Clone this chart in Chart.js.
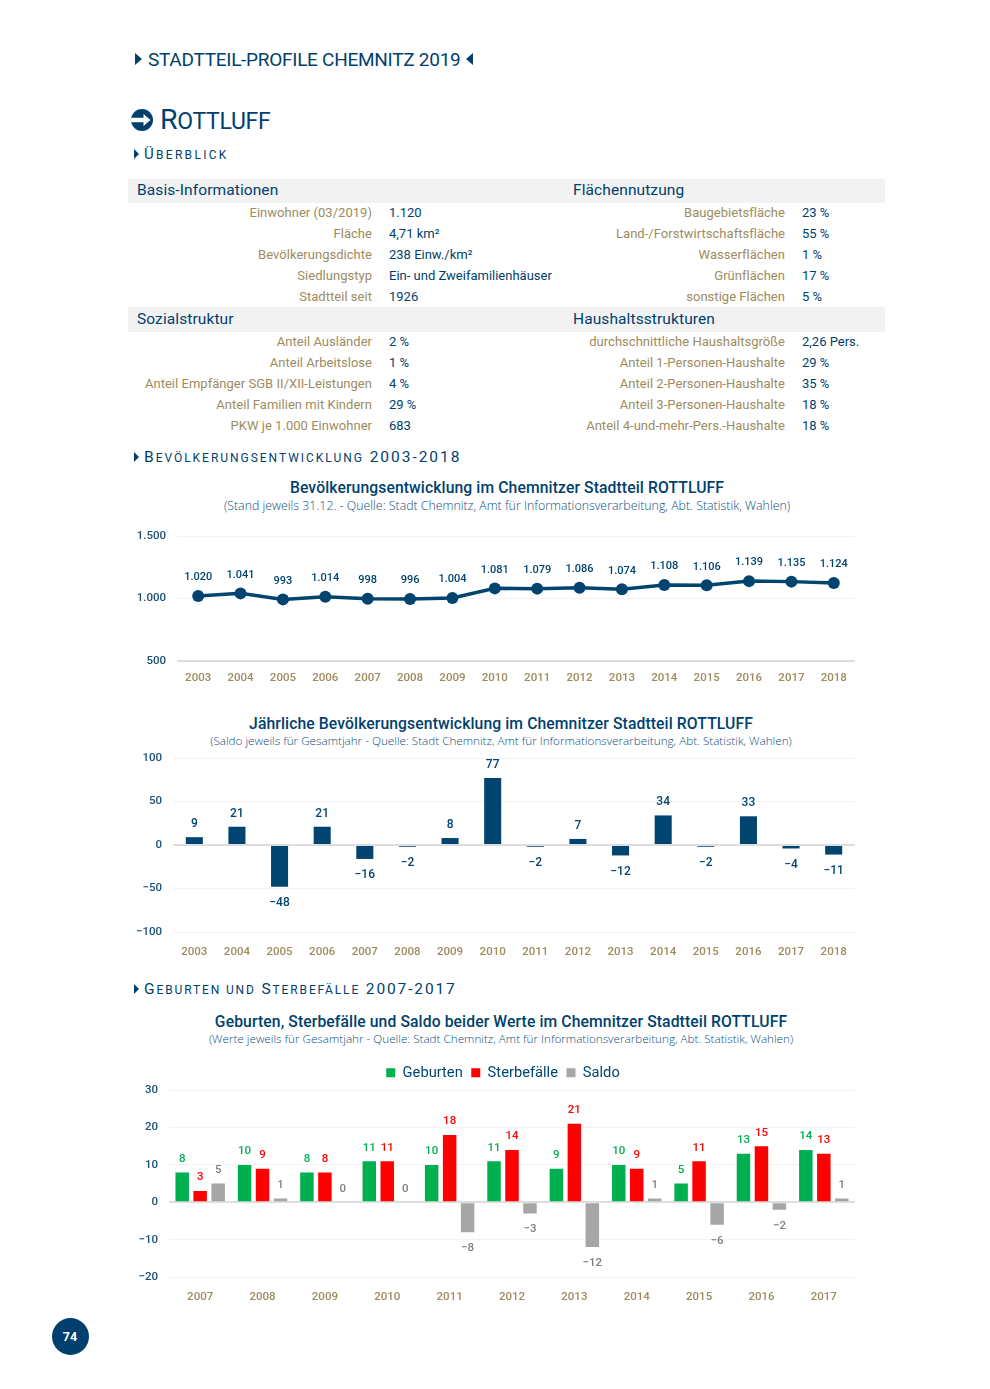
<!DOCTYPE html>
<html lang="de">
<head>
<meta charset="utf-8">
<title>Stadtteil-Profile Chemnitz 2019 – Rottluff</title>
<script src="https://cdn.jsdelivr.net/npm/chart.js@4/dist/chart.umd.min.js"></script>
<style>
html,body{margin:0;padding:0;background:#fff}
#page{position:relative;width:990px;height:1389px;overflow:hidden;background:#fff;font-family:Roboto,sans-serif;color:#003f6e}
.t{position:absolute;white-space:nowrap;line-height:1;transform:translateY(-50%)}
.r{transform:translate(-100%,-50%)}
.c{transform:translate(-50%,-50%)}
.band{position:absolute;left:128px;width:757px;background:#f2f2f2}
.lab{font-size:13px;color:#9c8c5e;letter-spacing:.03px}
.val{font-size:13px;color:#003f6e;letter-spacing:0}
.hd{font-size:15.5px;color:#003f6e;letter-spacing:.1px}
.sec{font-size:15.5px;letter-spacing:1.9px;color:#003f6e}
.sec b{font-weight:400;font-size:12px}
.title{font-size:15.7px;font-weight:500;color:#003f6e;letter-spacing:.11px}
.sub{font-family:"Open Sans",sans-serif;font-weight:300;font-size:12.35px;color:#0d4f80}
.sub.small{font-size:11.7px}
.tri{position:absolute;width:0;height:0;border-style:solid;border-color:transparent}
canvas{position:absolute;display:block}
</style>
</head>
<body>
<div id="page">
  <div class="band" style="top:179px;height:24px"></div>
  <div class="band" style="top:307px;height:25px"></div>

  <div class="tri" style="left:135px;top:53px;border-width:6.5px 0 6.5px 7px;border-left-color:#003f6e"></div>
  <div class="t" style="left:148px;top:58.500px;font-size:19px;letter-spacing:-.27px">STADTTEIL-PROFILE CHEMNITZ 2019</div>
  <div class="tri" style="left:466px;top:53px;border-width:6.5px 7px 6.5px 0;border-right-color:#003f6e"></div>

  <svg style="position:absolute;left:131px;top:109px" width="22" height="22" viewBox="0 0 22 22">
    <circle cx="11" cy="11" r="11" fill="#003f6e"/>
    <path d="M0 8.800H12.500V5L19.500 11L12.500 17V13.200H0Z" fill="#fff"/>
  </svg>
  <div class="t" style="left:160px;top:120px;font-size:28.5px;letter-spacing:-.3px">R<span style="font-size:23px">OTTLUFF</span></div>

  <div class="tri" style="left:134px;top:149px;border-width:5px 0 5px 5px;border-left-color:#003f6e"></div>
  <div class="t sec" style="left:144px;top:154px;font-size:15px;letter-spacing:2.3px">Ü<b>BERBLICK</b></div>

  <div class="tri" style="left:134px;top:452px;border-width:5px 0 5px 5px;border-left-color:#003f6e"></div>
  <div class="t sec" style="left:144px;top:457.500px;letter-spacing:1.97px">B<b>EVÖLKERUNGSENTWICKLUNG</b> 2003-2018</div>

  <div class="tri" style="left:134px;top:984px;border-width:5px 0 5px 5px;border-left-color:#003f6e"></div>
  <div class="t sec" style="left:144px;top:989.500px;letter-spacing:1.87px">G<b>EBURTEN UND</b> S<b>TERBEFÄLLE</b> 2007-2017</div>

  <div id="tables"></div>

  <div class="t c title" style="left:507px;top:487.500px">Bevölkerungsentwicklung im Chemnitzer Stadtteil ROTTLUFF</div>
  <div class="t c sub" style="left:507px;top:505.500px">(Stand jeweils 31.12. - Quelle: Stadt Chemnitz, Amt für Informationsverarbeitung, Abt. Statistik, Wahlen)</div>
  <canvas id="c1" style="left:100px;top:518px"></canvas>

  <div class="t c title" style="left:501px;top:723.500px">Jährliche Bevölkerungsentwicklung im Chemnitzer Stadtteil ROTTLUFF</div>
  <div class="t c sub small" style="left:501px;top:741px">(Saldo jeweils für Gesamtjahr - Quelle: Stadt Chemnitz, Amt für Informationsverarbeitung, Abt. Statistik, Wahlen)</div>
  <canvas id="c2" style="left:100px;top:740px"></canvas>

  <div class="t c title" style="left:501px;top:1021.500px">Geburten, Sterbefälle und Saldo beider Werte im Chemnitzer Stadtteil ROTTLUFF</div>
  <div class="t c sub small" style="left:501px;top:1039px">(Werte jeweils für Gesamtjahr - Quelle: Stadt Chemnitz, Amt für Informationsverarbeitung, Abt. Statistik, Wahlen)</div>
  <canvas id="c3" style="left:100px;top:1057px"></canvas>

  <svg style="position:absolute;left:52px;top:1318px" width="37" height="37"><circle cx="18.500" cy="18.500" r="18.500" fill="#003f6e"/></svg>
  <div class="t c" style="left:70px;top:1337px;font-size:12.5px;font-weight:700;color:#fff">74</div>
</div>
<script>
// ---- table text ----
const basisLabels = ["Einwohner (03/2019)","Fläche","Bevölkerungsdichte","Siedlungstyp","Stadtteil seit"];
const basisValues = ["1.120","4,71 km²","238 Einw./km²","Ein- und Zweifamilienhäuser","1926"];
const flaecheLabels = ["Baugebietsfläche","Land-/Forstwirtschaftsfläche","Wasserflächen","Grünflächen","sonstige Flächen"];
const flaecheValues = ["23 %","55 %","1 %","17 %","5 %"];
const sozialLabels = ["Anteil Ausländer","Anteil Arbeitslose","Anteil Empfänger SGB II/XII-Leistungen","Anteil Familien mit Kindern","PKW je 1.000 Einwohner"];
const sozialValues = ["2 %","1 %","4 %","29 %","683"];
const haushaltLabels = ["durchschnittliche Haushaltsgröße","Anteil 1-Personen-Haushalte","Anteil 2-Personen-Haushalte","Anteil 3-Personen-Haushalte","Anteil 4-und-mehr-Pers.-Haushalte"];
const haushaltValues = ["2,26 Pers.","29 %","35 %","18 %","18 %"];

// ---- chart data ----
const popYears = ["2003","2004","2005","2006","2007","2008","2009","2010","2011","2012","2013","2014","2015","2016","2017","2018"];
const population = [1020,1041,993,1014,998,996,1004,1081,1079,1086,1074,1108,1106,1139,1135,1124];
const balance = [9,21,-48,21,-16,-2,8,77,-2,7,-12,34,-2,33,-4,-11];
const vitalYears = ["2007","2008","2009","2010","2011","2012","2013","2014","2015","2016","2017"];
const births = [8,10,8,11,10,11,9,10,5,13,14];
const deaths = [3,9,8,11,18,14,21,9,11,15,13];
const netVital = [5,1,0,0,-8,-3,-12,1,-6,-2,1];

// ---- page text ----
const page = document.getElementById('tables');
function put(text, x, y, cls){
  const d = document.createElement('div');
  d.className = 't ' + cls; d.textContent = text;
  d.style.left = x + 'px'; d.style.top = y + 'px';
  page.appendChild(d);
}
function block(labels, values, xRight, xVal, y0){
  labels.forEach((l,i)=>{
    put(l, xRight, y0 + i*21, 'lab r');
    put(values[i], xVal, y0 + i*21, 'val');
  });
}
put('Basis-Informationen',137,190.5,'hd');
put('Flächennutzung',573,190.5,'hd');
put('Sozialstruktur',137,319.5,'hd');
put('Haushaltsstrukturen',573,319.5,'hd');
block(basisLabels,basisValues,372,389,212);
block(flaecheLabels,flaecheValues,785,802,212);
block(sozialLabels,sozialValues,372,389,341);
block(haushaltLabels,haushaltValues,785,802,341);

// ---- chart helpers ----
const NAVY = '#00446f', GOLD = '#9c8c5e', TICK = '#1b5079';
const FONT = 'Roboto';
const fmt = v => {
  const s = Math.abs(v).toLocaleString('de-DE');
  return v < 0 ? '\u2212' + s : s;
};
const grid = strongValue => ({
  drawTicks:false,
  color: c => c.tick && c.tick.value === strongValue ? '#dedede' : '#f3f3f3',
  lineWidth: c => c.tick && c.tick.value === strongValue ? 2 : 1
});
const noGrid = {display:false,drawTicks:false};
const fixedAxis = (w,h) => s => { if (w != null) s.width = w; if (h != null) s.height = h; };
const valueLabels = {
  id:'valueLabels',
  afterDatasetsDraw(chart, args, opts){
    const ctx = chart.ctx;
    ctx.save();
    ctx.font = '500 ' + opts.size + 'px ' + FONT;
    ctx.textAlign = 'center'; ctx.textBaseline = 'middle';
    chart.data.datasets.forEach((ds,di)=>{
      ctx.fillStyle = opts.colors ? opts.colors[di] : NAVY;
      chart.getDatasetMeta(di).data.forEach((el,i)=>{
        const v = ds.data[i];
        const off = v < 0 ? opts.below : -opts.above;
        ctx.fillText(fmt(v), el.x, el.y + off);
      });
    });
    ctx.restore();
  }
};
const legendNudge = {
  id:'legendNudge',
  afterLayout(chart){ const l = chart.legend; l.left += 11; l.right += 11; }
};
function size(id,w,h){ const c=document.getElementById(id); c.width=w; c.height=h; c.style.width=w+'px'; c.style.height=h+'px'; return c; }
const base = {responsive:false,animation:false,devicePixelRatio:1};
const tickFont = {family:FONT,size:11.5,weight:500};
const yearFont = {family:FONT,size:11.5,weight:500};

new Chart(size('c1',806,182),{
  type:'line',
  data:{labels:popYears,datasets:[{data:population,borderColor:NAVY,backgroundColor:NAVY,borderWidth:3.5,pointRadius:6,pointBackgroundColor:NAVY,pointBorderWidth:0,tension:0,clip:false}]},
  options:{...base,
    layout:{padding:{left:37,right:51,top:18,bottom:0}},
    plugins:{legend:{display:false},tooltip:{enabled:false},valueLabels:{size:11,above:18.5,below:0}},
    scales:{
      x:{offset:true,grid:noGrid,border:{display:false},afterFit:fixedAxis(null,39),
         ticks:{color:GOLD,font:yearFont,padding:10,maxRotation:0,autoSkip:false}},
      y:{min:500,max:1500,grid:grid(500),border:{display:false},afterFit:fixedAxis(40,null),
         ticks:{stepSize:500,color:TICK,font:tickFont,padding:11,callback:fmt}}
    }},
  plugins:[valueLabels]
});

new Chart(size('c2',806,230),{
  type:'bar',
  data:{labels:popYears,datasets:[{data:balance,backgroundColor:NAVY,barPercentage:.4,categoryPercentage:1}]},
  options:{...base,
    layout:{padding:{left:33,right:51,top:18,bottom:0}},
    plugins:{legend:{display:false},tooltip:{enabled:false},valueLabels:{size:12,above:13,below:16.5}},
    scales:{
      x:{grid:noGrid,border:{display:false},afterFit:fixedAxis(null,38),
         ticks:{color:GOLD,font:yearFont,padding:13,maxRotation:0,autoSkip:false}},
      y:{min:-100,max:100,grid:grid(0),border:{display:false},afterFit:fixedAxis(40,null),
         ticks:{stepSize:50,color:TICK,font:tickFont,padding:11,callback:fmt}}
    }},
  plugins:[valueLabels]
});

new Chart(size('c3',806,259),{
  type:'bar',
  data:{labels:vitalYears,datasets:[
    {label:'Geburten',data:births,backgroundColor:'#00b050',barPercentage:.75,categoryPercentage:.865},
    {label:'Sterbefälle',data:deaths,backgroundColor:'#ff0000',barPercentage:.75,categoryPercentage:.865},
    {label:'Saldo',data:netVital,backgroundColor:'#a6a6a6',barPercentage:.75,categoryPercentage:.865}
  ]},
  options:{...base,
    layout:{padding:{left:29,right:51,top:0,bottom:0}},
    plugins:{
      legend:{display:true,position:'top',labels:{boxWidth:9,boxHeight:9,padding:8.5,color:NAVY,font:{family:FONT,size:14.7}}},
      tooltip:{enabled:false},
      valueLabels:{size:11.5,above:13.5,below:16,colors:['#00b050','#ff0000','#7f7f7f']}},
    scales:{
      x:{grid:noGrid,border:{display:false},afterFit:fixedAxis(null,39),
         ticks:{color:GOLD,font:yearFont,padding:13,maxRotation:0,autoSkip:false}},
      y:{min:-20,max:30,grid:grid(0),border:{display:false},afterFit:fixedAxis(40,null),
         ticks:{stepSize:10,color:TICK,font:tickFont,padding:11,callback:fmt}}
    }},
  plugins:[valueLabels,legendNudge]
});
</script>
</body>
</html>
